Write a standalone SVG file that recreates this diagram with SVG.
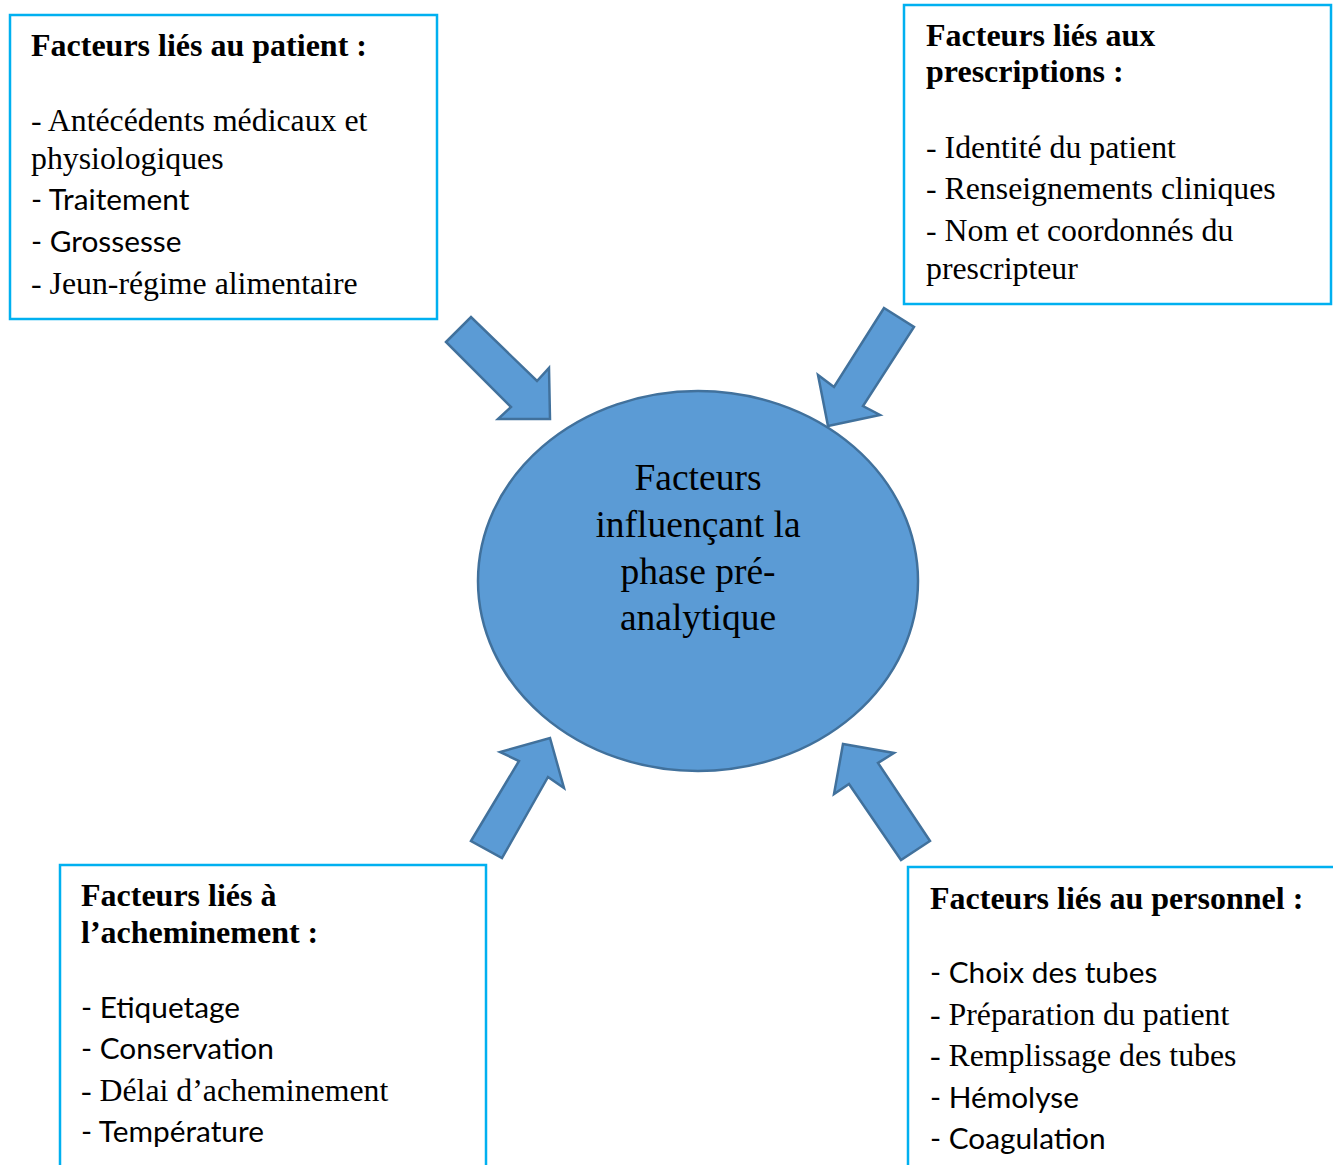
<svg xmlns="http://www.w3.org/2000/svg" width="1333" height="1165" viewBox="0 0 1333 1165">
<style>
.box{fill:#fff;stroke:#00B0F0;stroke-width:2.5}
.h{font-family:"Liberation Serif",serif;font-weight:bold;font-size:32px;fill:#000}
.s{font-family:"Liberation Serif",serif;font-size:31.8px;fill:#000}
.c{font-family:Lato,"Open Sans",sans-serif;font-size:29.8px;fill:#000}
.ctr{font-family:"Liberation Serif",serif;font-size:37.5px;fill:#000;text-anchor:middle}
.arr{fill:#5B9BD5;stroke:#41719C;stroke-width:2.5;stroke-linejoin:miter}
</style>
<rect width="1333" height="1165" fill="#fff"/>
<g id="connectors">
<polygon class="arr" points="446,342 471,317 537,381 549,368 550,419 498,419 511,407"/>
<polygon class="arr" points="884,308 914,327 863,406 880,415 828,426 818,375 834,387"/>
<polygon class="arr" points="471,841 519,761 500,752 550,738 564,788 548,777 502,858"/>
<polygon class="arr" points="930,841 878,763 894,753 843,744 834,794 849,784 901,860"/>
</g>
<g id="center">
<ellipse cx="698" cy="581" rx="220" ry="190" fill="#5B9BD5" stroke="#41719C" stroke-width="2.5"/>
<text class="ctr" x="698" y="490">Facteurs</text>
<text class="ctr" x="698" y="537">influençant la</text>
<text class="ctr" x="698" y="584">phase pré-</text>
<text class="ctr" x="698" y="630">analytique</text>
</g>
<g id="patient">
<rect class="box" x="10" y="15" width="427" height="304"/>
<text class="h" x="31" y="56">Facteurs liés au patient :</text>
<text class="s" x="31" y="130.5">- Antécédents médicaux et</text>
<text class="s" x="31" y="168.5">physiologiques</text>
<text class="c" x="31" y="209.5">- Traitement</text>
<text class="c" x="31" y="251.5">- Grossesse</text>
<text class="s" x="31" y="293.5">- Jeun-régime alimentaire</text>
</g>
<g id="prescriptions">
<rect class="box" x="904" y="5" width="427" height="299"/>
<text class="h" x="926" y="46">Facteurs liés aux</text>
<text class="h" x="926" y="82">prescriptions :</text>
<text class="s" x="926" y="158">- Identité du patient</text>
<text class="s" x="926" y="198.5">- Renseignements cliniques</text>
<text class="s" x="926" y="240.5">- Nom et coordonnés du</text>
<text class="s" x="926" y="278.5">prescripteur</text>
</g>
<g id="acheminement">
<rect class="box" x="60" y="865" width="426" height="310"/>
<text class="h" x="81" y="906">Facteurs liés à</text>
<text class="h" x="81" y="943">l’acheminement :</text>
<text class="c" x="81" y="1018">- Etiquetage</text>
<text class="c" x="81" y="1058.5">- Conservation</text>
<text class="s" x="81" y="1100.5">- Délai d’acheminement</text>
<text class="c" x="81" y="1141.5">- Température</text>
</g>
<g id="personnel">
<rect class="box" x="908" y="867" width="435" height="310"/>
<text class="h" x="930" y="909">Facteurs liés au personnel :</text>
<text class="c" x="930" y="983">- Choix des tubes</text>
<text class="s" x="930" y="1024.5">- Préparation du patient</text>
<text class="s" x="930" y="1066">- Remplissage des tubes</text>
<text class="c" x="930" y="1107.5">- Hémolyse</text>
<text class="c" x="930" y="1148.5">- Coagulation</text>
</g>
</svg>
